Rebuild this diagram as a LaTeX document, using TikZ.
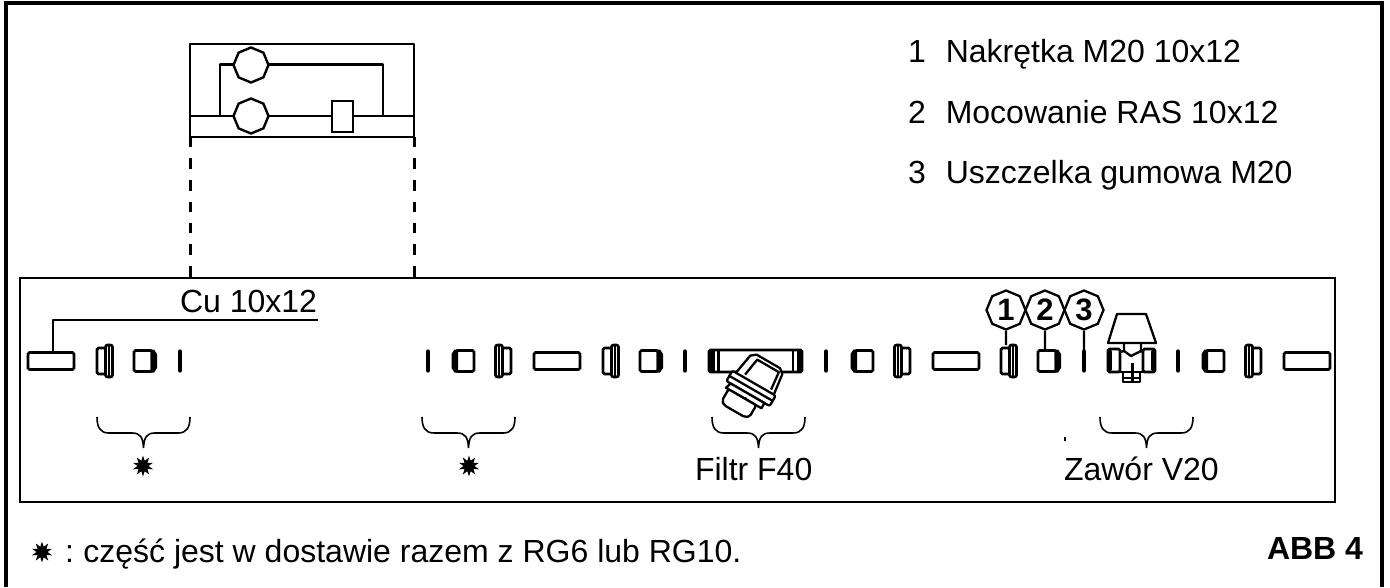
\documentclass[tikz,border=0pt]{standalone}
\usepackage{fontspec}
\setmainfont{Liberation Sans}
\usetikzlibrary{shapes.geometric,calc}
\tikzset{
  med line/.style={line width=2.3pt, line join=round},
  lbl/.style={inner sep=0pt, outer sep=0pt, font=\fontsize{32}{36}\selectfont, anchor=base west},
  octa/.style={regular polygon, regular polygon sides=8, shape border rotate=22.5, draw, line width=2.4pt, fill=white, minimum size=35pt, inner sep=0pt},
  numocta/.style={regular polygon, regular polygon sides=8, shape border rotate=22.5, draw, line width=2.3pt, fill=white, minimum size=39pt, inner sep=0pt, font=\bfseries\fontsize{31}{31}\selectfont},
  brace/.style={line width=1.6pt},
  valve/.style={draw, line width=2.6pt, rounded corners=1.5pt, fill=white},
  sline/.style={line width=2.3pt, line join=round},
}
\newcommand{\pipepart}[2]{\draw[valve] (#1,#2-8.5) rectangle ++(46,17);}
\newcommand{\ringpart}[2]{\draw[line width=4.4pt, line cap=round] (#1,#2-9.5) -- ++(0,19);}
\newcommand{\nutR}[2]{%
  \draw[valve] (#1+1,#2-13) rectangle ++(12,26);
  \draw[line width=2.6pt, rounded corners=2pt, fill=white] (#1+9.5,#2-16) rectangle ++(7,32);
  \draw[line width=2.6pt] (#1+13,#2-15) -- ++(0,30);}
\newcommand{\nutL}[2]{%
  \draw[valve] (#1+3,#2-13) rectangle ++(12,26);
  \draw[line width=2.6pt, rounded corners=2pt, fill=white] (#1-0.5,#2-16) rectangle ++(7,32);
  \draw[line width=2.6pt] (#1+3,#2-15) -- ++(0,30);}
\newcommand{\bushR}[2]{%
  \draw[valve] (#1+1,#2-10.5) rectangle ++(18,21);
  \fill (#1+17.5,#2-11.5) -- (#1+21,#2-11.5) -- (#1+24,#2-7) -- (#1+24,#2+7) -- (#1+21,#2+11.5) -- (#1+17.5,#2+11.5) -- cycle;}
\newcommand{\bushL}[2]{%
  \draw[valve] (#1+4,#2-10.5) rectangle ++(18,21);
  \fill (#1+6,#2-11.5) -- (#1+2.5,#2-11.5) -- (#1-0.5,#2-7) -- (#1-0.5,#2+7) -- (#1+2.5,#2+11.5) -- (#1+6,#2+11.5) -- cycle;}
\newcommand{\curly}[2]{%
  \draw[brace] (#1,#2) .. controls (#1,#2+10) and (#1+3,#2+16) .. (#1+12,#2+16) -- (#1+35,#2+16) .. controls (#1+43,#2+16) and (#1+46,#2+20) .. (#1+46.5,#2+31)
   .. controls (#1+47,#2+20) and (#1+50,#2+16) .. (#1+58,#2+16) -- (#1+81,#2+16) .. controls (#1+90,#2+16) and (#1+93,#2+10) .. (#1+93,#2);}
\newcommand{\burst}[2]{%
  \fill ($(#1,#2)+(90:10.5)$) \foreach \a in {0,...,9}{ -- ($(#1,#2)+(90+\a*36+18:5.5)$) -- ($(#1,#2)+(90+\a*36+36:10.5)$)} -- cycle;}
\begin{document}
\begin{tikzpicture}[x=1pt,y=-1pt]
\useasboundingbox (0,0) rectangle (1390,587);
\fill[white] (0,0) rectangle (1390,587);
% frames
\draw[line width=4pt] (5.5,587) -- (5.5,3) -- (1382,3) -- (1382,587);
\draw[line width=2.2pt] (20,278) rectangle (1335,502);
% top schematic
\draw[sline] (190,137) -- (190,44) -- (414,44) -- (414,137) -- cycle;
\draw[sline] (190,116) -- (414,116);
\draw[sline] (220,116) -- (220,64.5) -- (383,64.5) -- (383,116);
\node[octa] (v1) at (251,65) {};
\node[octa] (v2) at (251,116) {};
\node[draw, line width=2.3pt, fill=white, minimum width=21pt, minimum height=31pt, inner sep=0pt] (fitbox) at (342.5,116.5) {};
\foreach \xx in {190,414}{
  \draw[line width=3pt] (\xx,137) -- (\xx,147) (\xx,158) -- (\xx,169) (\xx,180) -- (\xx,191) (\xx,202) -- (\xx,212) (\xx,223) -- (\xx,233) (\xx,244) -- (\xx,255) (\xx,266) -- (\xx,278);
}
% legend
\node[lbl] (l1) at (908,62) {1\hspace{20pt}Nakrętka M20 10x12};
\node[lbl] (l2) at (908,123) {2\hspace{20pt}Mocowanie RAS 10x12};
\node[lbl] (l3) at (908,183) {3\hspace{20pt}Uszczelka gumowa M20};
% Cu label
\node[lbl] (cu) at (180,312) {Cu 10x12};
\coordinate (cuend) at (318,320);
\coordinate (cubend) at (53,320);
\coordinate (cumid) at (118,320);
\draw[line width=1.8pt] (cuend) -- (cumid);
\draw[line width=2.5pt, line join=round] (cumid) -- (cubend) -- (53,352);
% row
\pipepart{28}{361}
\nutR{96}{361}
\bushR{133}{361}
\ringpart{180}{361}
\ringpart{428}{361}
\bushL{452}{361}
\nutL{496}{361}
\pipepart{534}{361}
\nutR{602}{361}
\bushR{639}{361}
\ringpart{685}{361}
% filter
\draw[valve] (709,350) rectangle (802,372);
\draw[line width=5pt, rounded corners=1pt] (712.5,351) -- (712.5,371) (799,351) -- (799,371);
\draw[line width=2.4pt] (718.5,350) -- (718.5,372) (793,350) -- (793,372);
\begin{scope}[shift={(751.5,387.5)},rotate=-30]
  \draw[sline, fill=white] (-21,-4) -- (-17,-27) -- (-12,-31) -- (15,-31) -- (20,-27) -- (23,-4) -- cycle;
  \draw[sline] (-12,-8) -- (-9,-27) -- (16,-27) -- (18,-8);
  \draw[sline, fill=white, rounded corners=2pt] (-25,-5) -- (25,-5) -- (25,7) -- (-25,7) -- cycle;
  \draw[sline] (-25,1) -- (25,1);
  \draw[sline, fill=white] (-20,7) -- (-22,13) -- (19,13) -- (19,7) -- cycle;
  \draw[sline, fill=white, rounded corners=2pt] (-19,13) -- (-19,26) -- (-15,29) -- (9,29) -- (13,26) -- (13,13) -- cycle;
  \fill (0,12) circle (1.2pt);
\end{scope}
\ringpart{826}{361}
\bushL{851}{361}
\nutL{895}{361}
\pipepart{933}{361}
\nutR{1000}{361}
\bushR{1037}{361}
% callouts
\node[numocta] (n1) at (1006,310) {1};
\node[numocta] (n2) at (1045,310) {2};
\node[numocta] (n3) at (1084,310) {3};
\coordinate (s1) at (1006,345);
\coordinate (s2) at (1045,351);
\coordinate (s3) at (1084,352);
\draw[med line] (n1.south) -- (s1);
\draw[med line] (n2.south) -- (s2);
\draw[med line] (n3.south) -- (s3);
\ringpart{1084}{361}
% valve V20
\draw[sline, fill=white] (1108,343) -- (1117,314) -- (1146,314) -- (1156,343) -- cycle;
\draw[sline] (1124,343) -- (1124,351) -- (1131,356) -- (1141,351) -- (1141,343);
\draw[sline] (1120,352) -- (1124,351) (1141,351) -- (1143,352);
\draw[sline] (1120,372) -- (1143,372);
\draw[valve] (1108,349) rectangle (1120,372);
\draw[valve] (1143,349) rectangle (1155,372);
\draw[line width=5pt, line cap=round] (1109.5,352) -- (1109.5,369) (1153.5,352) -- (1153.5,369);
\draw[sline] (1123,372) -- (1123,382) -- (1140,382) -- (1140,372);
\draw[sline] (1123,378) -- (1140,378);
\draw[line width=3pt] (1132,363) -- (1132,382);
\ringpart{1178}{361}
\bushL{1202}{361}
\nutL{1246}{361}
\pipepart{1284}{361}
% braces
\curly{97}{417}
\curly{422}{417}
\curly{712}{417}
\curly{1100}{417}
\draw[line width=1.2pt] (1065,437) -- (1065,441);
% stars
\burst{143}{466}
\burst{469}{466}
\burst{42}{552}
% bottom labels
\node[lbl] (filtr) at (695,480) {Filtr F40};
\node[lbl] (zawor) at (1064,480) {Zawór V20};
\node[lbl] (note) at (65,562) {:\hspace{9.5pt}część jest w dostawie razem z RG6 lub RG10.};
\node[lbl, font=\bfseries\fontsize{32}{36}\selectfont] (abb) at (1267,559) {ABB 4};
\end{tikzpicture}
\end{document}
